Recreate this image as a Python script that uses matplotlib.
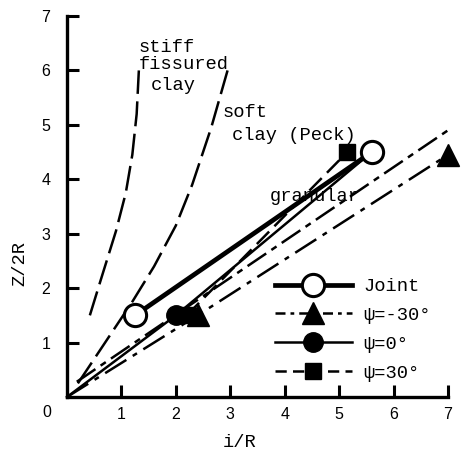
import matplotlib
matplotlib.use('Agg')
import matplotlib.pyplot as plt
from matplotlib.lines import Line2D

mono = 'Liberation Mono'

# Peck's trough-width curves
stiff_x = [0.42, 0.62, 0.90, 1.08, 1.20, 1.28, 1.32]
stiff_y = [1.50, 2.15, 3.05, 3.75, 4.45, 5.20, 6.00]
soft_x = [0.20, 0.70, 1.20, 1.60, 2.00, 2.30, 2.65, 2.95]
soft_y = [0.25, 1.00, 1.75, 2.40, 3.15, 3.90, 4.95, 6.00]
gran_x = [0.18, 7.00]
gran_y = [0.28, 4.90]

# computed results (first point of the psi series is the origin)
joint_x = [1.25, 5.60]
joint_y = [1.50, 4.50]
psi_m30_x = [0.0, 2.40, 7.00]
psi_m30_y = [0.0, 1.50, 4.45]
psi_0_x = [0.0, 2.00, 5.60]
psi_0_y = [0.0, 1.50, 4.50]
psi_30_x = [2.20, 5.15]
psi_30_y = [1.50, 4.50]

ticks = [1, 2, 3, 4, 5, 6, 7]

fig = plt.figure(figsize=(4.64, 4.5), dpi=100)
ax = fig.add_axes([67/464, 53/450, 381/464, 381/450])

ax.plot(stiff_x, stiff_y, color='k', lw=1.8, dashes=(10, 3))
ax.plot(soft_x, soft_y, color='k', lw=1.8, dashes=(10, 3))
ax.plot(gran_x, gran_y, color='k', lw=1.8, dashes=(9, 2.5, 2.5, 2.5))

ax.plot(psi_0_x, psi_0_y, color='k', lw=1.8, marker='o', ms=14,
        markevery=[1, 2], clip_on=False)
ax.plot(psi_30_x, psi_30_y, color='k', lw=1.8, dashes=(7, 3),
        marker='s', ms=11, clip_on=False)
ax.plot(psi_m30_x, psi_m30_y, color='k', lw=1.8, dashes=(10, 3, 2, 3),
        marker='^', ms=16, markevery=[1, 2], clip_on=False)
ax.plot(joint_x, joint_y, color='k', lw=3.4, marker='o', ms=16,
        mfc='white', mec='k', mew=2.2, clip_on=False)

ax.text(1.31, 6.42, 'stiff', family=mono, fontsize=13.5, va='center')
ax.text(1.31, 6.10, 'fissured', family=mono, fontsize=13.5, va='center')
ax.text(1.53, 5.72, 'clay', family=mono, fontsize=13.5, va='center')
ax.text(2.85, 5.22, 'soft', family=mono, fontsize=13.5, va='center')
ax.text(3.03, 4.80, 'clay (Peck)', family=mono, fontsize=13.5, va='center')
ax.text(3.73, 3.68, 'granular', family=mono, fontsize=13.5, va='center',
        zorder=1)

ax.set_xlim(0, 7)
ax.set_ylim(0, 7)
ax.set_xticks(ticks)
ax.set_yticks(ticks)
for lab in ax.get_xticklabels() + ax.get_yticklabels():
    lab.set_family('Liberation Sans')
ax.tick_params(direction='in', length=8.5, width=2.2, labelsize=11.5)
ax.tick_params(axis='y', pad=12)
ax.tick_params(axis='x', pad=7)
ax.spines['top'].set_visible(False)
ax.spines['right'].set_visible(False)
ax.spines['left'].set_linewidth(2.4)
ax.spines['bottom'].set_linewidth(2.4)

ax.text(-0.37, -0.29, '0', family='Liberation Sans', fontsize=11.5,
        ha='center', va='center', clip_on=False)
ax.text(-0.86, 2.45, 'Z/2R', family=mono, fontsize=13.5, rotation=90,
        ha='center', va='center')
ax.text(3.18, -0.83, 'i/R', family=mono, fontsize=13.5,
        ha='center', va='center')

# legend keys with shorter dash patterns
handles = [
    Line2D([], [], color='k', lw=3.4, marker='o', ms=16, mfc='white',
           mec='k', mew=2.2),
    Line2D([], [], color='k', lw=1.8, dashes=(4, 2, 1.5, 2), marker='^',
           ms=16),
    Line2D([], [], color='k', lw=1.8, marker='o', ms=14),
    Line2D([], [], color='k', lw=1.8, dashes=(4.5, 2.5), marker='s', ms=11),
]
labels = ['Joint', 'ψ=-30°', 'ψ=0°', 'ψ=30°']
ax.legend(handles, labels, loc='upper left',
          bbox_to_anchor=(0.546, 0.312), frameon=False, borderpad=0,
          borderaxespad=0, handlelength=4.1, handletextpad=0.6,
          labelspacing=0.62, numpoints=1,
          prop={'family': mono, 'size': 13.5})

plt.savefig('out.png', dpi=100)
